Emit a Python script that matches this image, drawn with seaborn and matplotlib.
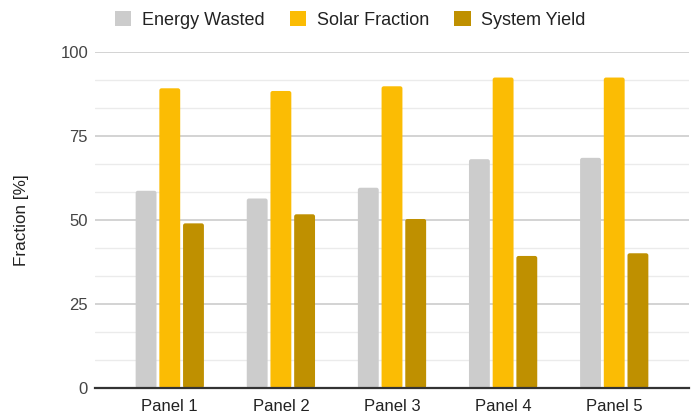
import matplotlib
matplotlib.use("Agg")
import matplotlib.pyplot as plt
from matplotlib.patches import FancyBboxPatch, Patch
from matplotlib.ticker import MultipleLocator
import numpy as np
import pandas as pd
import seaborn as sns

# Chart data
panels = ["Panel 1", "Panel 2", "Panel 3", "Panel 4", "Panel 5"]
series = ["Energy Wasted", "Solar Fraction", "System Yield"]
energy_wasted = [58.7, 56.4, 59.6, 68.1, 68.5]
solar_fraction = [89.2, 88.4, 89.8, 92.4, 92.4]
system_yield = [49.0, 51.7, 50.3, 39.3, 40.1]
y_ticks = [0, 25, 50, 75, 100]
colors = ["#cccccc", "#fbbc04", "#bf9000"]

df = pd.DataFrame({
    "Panel": panels * 3,
    "Series": [s for s in series for _ in panels],
    "Value": energy_wasted + solar_fraction + system_yield,
})

sns.set_theme(style="white")
plt.rcParams["font.family"] = ["Liberation Sans", "DejaVu Sans"]

fig = plt.figure(figsize=(6.91, 4.16), dpi=100)
ax = fig.add_axes([95 / 691, 28 / 416, 594 / 691, 336 / 416])

sns.barplot(
    data=df, x="Panel", y="Value", hue="Series", order=panels,
    hue_order=series, palette=colors, width=0.64, gap=0.12,
    saturation=1, ax=ax, legend=False, errorbar=None,
)

ax.set_xlim(-0.673, 4.673)
ax.set_ylim(0, 100)

# Slightly rounded bar corners
x_per_px = (4.673 + 0.673) / 594
y_per_px = 100 / 336
aspect = y_per_px / x_per_px
for p in list(ax.patches):
    x, y = p.get_x(), p.get_y()
    w, h = p.get_width(), p.get_height()
    fc = p.get_facecolor()
    p.remove()
    rb = FancyBboxPatch(
        (x, y), w, h,
        boxstyle=f"round,pad=0,rounding_size={2.2 * x_per_px}",
        mutation_aspect=aspect, facecolor=fc, edgecolor="none",
        linewidth=0, zorder=2,
    )
    ax.add_patch(rb)

# Grid lines: major every 25, minor every 25/3
ax.yaxis.set_major_locator(MultipleLocator(25))
ax.yaxis.set_minor_locator(MultipleLocator(25 / 3))
ax.set_yticks(y_ticks)
ax.grid(axis="y", which="major", color="#cccccc", linewidth=1.2, zorder=0)
ax.grid(axis="y", which="minor", color="#ebebeb", linewidth=1.0, zorder=0)
ax.grid(axis="x", visible=False)
ax.set_axisbelow(True)

for side in ["top", "right", "left"]:
    ax.spines[side].set_visible(False)
ax.spines["bottom"].set_color("#333333")
ax.spines["bottom"].set_linewidth(1.6)
ax.spines["bottom"].set_zorder(3)

ax.tick_params(axis="both", which="both", length=0)
ax.tick_params(axis="y", pad=5, labelsize=12, labelcolor="#444444")
ax.tick_params(axis="x", pad=8, labelsize=12, labelcolor="#222222")

ax.set_xlabel("")
ax.set_ylabel("Fraction [%]", fontsize=12.3, color="#222222")
ax.yaxis.label.set_va("center")
ax.yaxis.set_label_coords(-0.124, 0.5)

handles = [Patch(facecolor=c, edgecolor="none", label=s) for c, s in zip(colors, series)]
fig.legend(
    handles=handles, loc="center", bbox_to_anchor=(0.507, 1 - 20 / 416),
    ncol=3, frameon=False, fontsize=13, handlelength=0.9,
    handleheight=0.9, handletextpad=0.6, columnspacing=1.4,
    labelcolor="#222222",
)

fig.savefig("out.png", dpi=100, facecolor="white")
